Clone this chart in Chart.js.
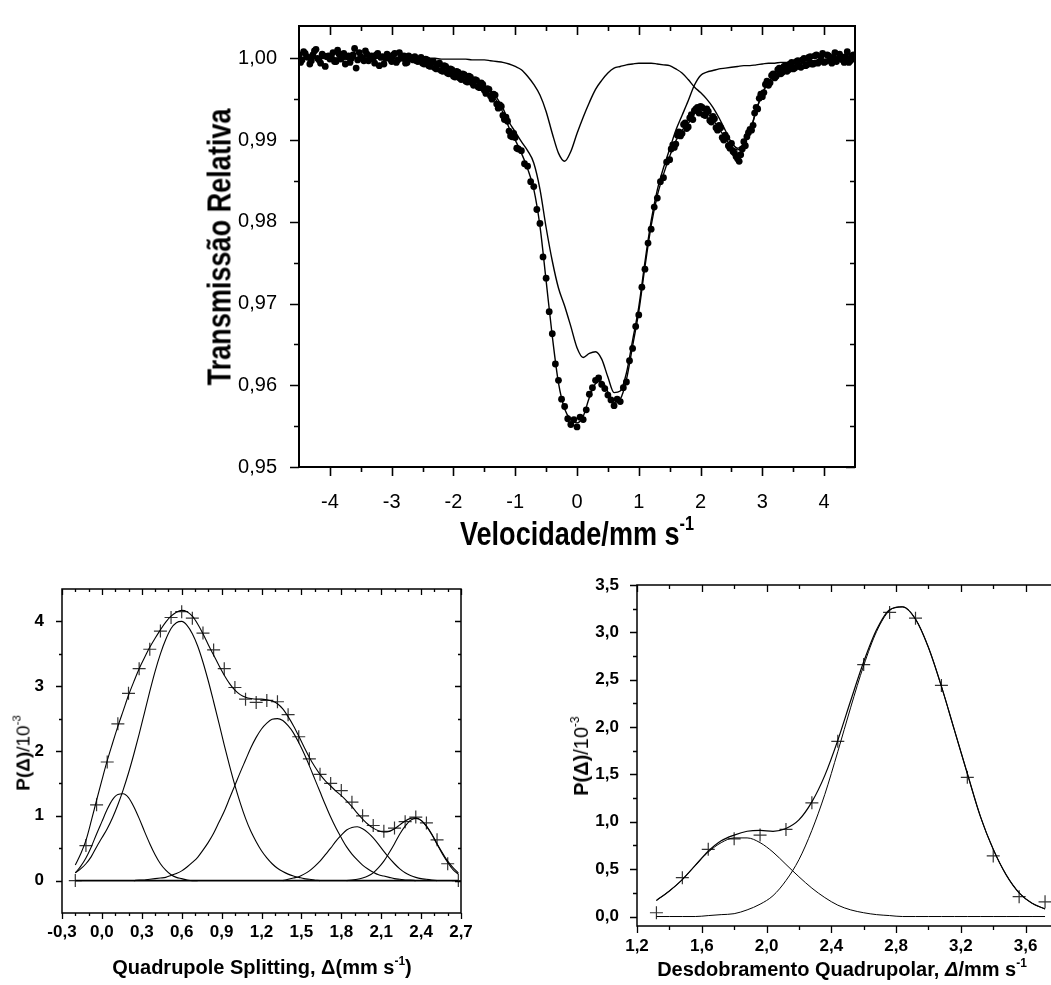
<!DOCTYPE html>
<html>
<head>
<meta charset="utf-8">
<script src="https://cdn.jsdelivr.net/npm/chart.js@4.4.1/dist/chart.umd.min.js"></script>
<style>
html, body { margin: 0; padding: 0; background: #fff; width: 1051px; height: 985px; overflow: hidden; }
.box { position: absolute; }
.ttl { position: absolute; white-space: nowrap; font-family: "Liberation Sans", Arial, sans-serif; font-weight: bold; color: #000; line-height: 1; }
.sup { font-size: 0.6em; position: relative; top: -0.78em; }
.thin { font-weight: normal; }
</style>
</head>
<body>
<div class="box" style="left:0;top:0;width:1051px;height:560px"><canvas id="spectrum"></canvas></div>
<div class="box" style="left:0;top:560px;width:520px;height:425px"><canvas id="distA"></canvas></div>
<div class="box" style="left:520px;top:560px;width:560px;height:425px"><canvas id="distB"></canvas></div>

<div class="ttl" style="left:219px;top:247px;font-size:33px;transform:translate(-50%,-50%) rotate(-90deg) scaleX(0.82)">Transmissão Relativa</div>
<div class="ttl" style="left:577px;top:533px;font-size:33px;transform:translate(-50%,-50%) scaleX(0.82)">Velocidade/mm s<span class="sup">-1</span></div>

<div class="ttl" style="left:23px;top:753px;font-size:19px;transform:translate(-50%,-50%) rotate(-90deg)">P(Δ)<span class="thin">/10<span class="sup">-3</span></span></div>
<div class="ttl" style="left:262px;top:967px;font-size:20px;transform:translate(-50%,-50%)">Quadrupole Splitting, Δ(mm s<span class="sup">-1</span>)</div>

<div class="ttl" style="left:581px;top:756px;font-size:20px;transform:translate(-50%,-50%) rotate(-90deg)">P(Δ)<span class="thin">/10<span class="sup">-3</span></span></div>
<div class="ttl" style="left:842px;top:969px;font-size:20px;transform:translate(-50%,-50%)">Desdobramento Quadrupolar, <i>Δ</i>/mm s<span class="sup">-1</span></div>

<script>
// ---- top panel: Mössbauer spectrum ----
const VEL_START = -4.5, VEL_STEP = 0.05;
const TRANS_DATA = [
  1.0004, 0.9998, 1.0006, 1.0001, 0.9997, 1.0009, 1.0000, 0.9994, 1.0003, 1.0002,
  0.9999, 1.0007, 0.9996, 1.0005, 1.0001, 0.9993, 1.0003, 1.0000, 1.0012, 0.9998,
  1.0002, 0.9997, 1.0005, 1.0001, 0.9999, 1.0004, 0.9991, 1.0002, 1.0000, 1.0003,
  0.9996, 1.0006, 0.9998, 1.0001, 1.0003, 0.9995, 1.0001, 0.9998, 0.9997, 0.9999,
  0.9994, 0.9999, 0.9991, 0.9996, 0.9988, 0.9993, 0.9985, 0.9991, 0.9982, 0.9987,
  0.9978, 0.9984, 0.9976, 0.9981, 0.9972, 0.9978, 0.9970, 0.9974, 0.9965, 0.9970,
  0.9961, 0.9963, 0.9954, 0.9956, 0.9944, 0.9943, 0.9930, 0.9928, 0.9911, 0.9904,
  0.9903, 0.9889, 0.9887, 0.9871, 0.9868, 0.9849, 0.9843, 0.9815, 0.9798, 0.9757,
  0.9731, 0.9690, 0.9663, 0.9626, 0.9606, 0.9583, 0.9574, 0.9559, 0.9552, 0.9558,
  0.9549, 0.9561, 0.9558, 0.9570, 0.9589, 0.9597, 0.9606, 0.9609, 0.9601, 0.9596,
  0.9588, 0.9582, 0.9575, 0.9583, 0.9580, 0.9597, 0.9604, 0.9630, 0.9645, 0.9672,
  0.9686, 0.9720, 0.9742, 0.9774, 0.9791, 0.9818, 0.9829, 0.9849, 0.9854, 0.9873,
  0.9876, 0.9894, 0.9895, 0.9910, 0.9908, 0.9921, 0.9916, 0.9931, 0.9936, 0.9940,
  0.9941, 0.9931, 0.9938, 0.9924, 0.9929, 0.9915, 0.9918, 0.9903, 0.9906, 0.9893,
  0.9896, 0.9884, 0.9877, 0.9882, 0.9898, 0.9904, 0.9913, 0.9918, 0.9940, 0.9951,
  0.9953, 0.9968, 0.9967, 0.9979, 0.9976, 0.9986, 0.9981, 0.9990, 0.9984, 0.9993,
  0.9987, 0.9996, 0.9990, 0.9998, 0.9991, 1.0001, 0.9993, 1.0003, 0.9994, 1.0002,
  0.9995, 1.0004, 0.9997, 1.0001, 0.9996, 1.0005, 0.9998, 1.0002, 0.9995, 1.0003,
  0.9999
];
// second pass of channels in the wings (half a step offset)
const WING_L_START = -4.475;
const TRANS_WING_L = [
  0.9995, 1.0008, 1.0002, 0.9993, 1.0004, 1.0011, 0.9998, 1.0005, 0.9990, 1.0003,
  1.0001, 0.9996, 1.0010, 0.9999, 1.0006, 1.0002, 0.9995, 1.0004, 0.9988, 1.0007,
  1.0000, 1.0009, 0.9997, 1.0003, 0.9994, 1.0006, 1.0001, 0.9993, 1.0005, 0.9999,
  1.0004, 0.9995, 1.0007, 1.0000, 0.9994, 1.0003, 0.9999, 1.0002,
  0.9996, 1.0001, 0.9993, 0.9998, 0.9990, 0.9996, 0.9987, 0.9994, 0.9984, 0.9990,
  0.9981, 0.9986, 0.9977, 0.9983, 0.9974, 0.9980, 0.9971, 0.9977, 0.9967, 0.9973,
  0.9964, 0.9968, 0.9957, 0.9962, 0.9950, 0.9955, 0.9939, 0.9941, 0.9925, 0.9923,
  0.9905, 0.9908, 0.9890
];
const WING_R_START = 1.525;
const TRANS_WING_R = [
  0.9889, 0.9891, 0.9906, 0.9905, 0.9919, 0.9914, 0.9927, 0.9925, 0.9938, 0.9933,
  0.9940, 0.9930, 0.9935, 0.9922, 0.9926, 0.9912, 0.9915, 0.9900, 0.9903, 0.9890,
  0.9886, 0.9880, 0.9874, 0.9889, 0.9893, 0.9909, 0.9912, 0.9933, 0.9938, 0.9956,
  0.9958, 0.9972, 0.9970, 0.9981, 0.9978, 0.9988, 0.9983, 0.9991, 0.9986, 0.9995,
  0.9988, 0.9997, 0.9989, 1.0000, 0.9992, 1.0002, 0.9993, 1.0004, 0.9996, 1.0006,
  0.9996, 1.0003, 0.9994, 1.0007, 0.9999, 1.0002, 0.9995, 1.0008, 0.9997, 1.0004
];
const CURVE_START = -4.5, CURVE_STEP = 0.1;
const FIT_TOTAL = [
  1.0000, 1.0000, 1.0000, 1.0000, 1.0000, 1.0000, 1.0000, 1.0000, 1.0000, 1.0000,
  1.0000, 1.0000, 1.0000, 1.0000, 1.0000, 1.0000, 0.9999, 0.9999, 0.9998, 0.9998,
  0.9997, 0.9995, 0.9992, 0.9989, 0.9986, 0.9983, 0.9980, 0.9977, 0.9973, 0.9969,
  0.9965, 0.9958, 0.9948, 0.9934, 0.9915, 0.9900, 0.9884, 0.9865, 0.9840, 0.9795,
  0.9728, 0.9660, 0.9603, 0.9571, 0.9558, 0.9554, 0.9562, 0.9585, 0.9602, 0.9605,
  0.9592, 0.9579, 0.9583, 0.9607, 0.9648, 0.9690, 0.9745, 0.9795, 0.9832, 0.9858,
  0.9880, 0.9899, 0.9912, 0.9920, 0.9932, 0.9937, 0.9933, 0.9925, 0.9914, 0.9902,
  0.9892, 0.9888, 0.9894, 0.9910, 0.9936, 0.9957, 0.9971, 0.9979, 0.9985, 0.9988,
  0.9991, 0.9993, 0.9995, 0.9996, 0.9997, 0.9998, 0.9999, 0.9999, 1.0000, 1.0000,
  1.0000
];
const FIT_SITE_A = [
  1.0000, 1.0000, 1.0000, 1.0000, 1.0000, 1.0000, 1.0000, 1.0000, 1.0000, 1.0000,
  1.0000, 1.0000, 1.0000, 1.0000, 1.0000, 1.0000, 1.0000, 1.0000, 1.0000, 1.0000,
  1.0000, 1.0000, 1.0000, 0.9999, 0.9999, 0.9999, 0.9999, 0.9999, 0.9998, 0.9998,
  0.9998, 0.9997, 0.9996, 0.9995, 0.9993, 0.9990, 0.9986, 0.9978, 0.9968, 0.9955,
  0.9935, 0.9908, 0.9884, 0.9874, 0.9886, 0.9908, 0.9928, 0.9946, 0.9962, 0.9973,
  0.9982, 0.9988, 0.9990, 0.9992, 0.9993, 0.9994, 0.9994, 0.9994, 0.9993, 0.9992,
  0.9991, 0.9987, 0.9982, 0.9974, 0.9965, 0.9958, 0.9950, 0.9940, 0.9927, 0.9912,
  0.9897, 0.9890, 0.9896, 0.9910, 0.9936, 0.9957, 0.9971, 0.9979, 0.9985, 0.9988,
  0.9991, 0.9993, 0.9995, 0.9996, 0.9997, 0.9998, 0.9999, 0.9999, 1.0000, 1.0000,
  1.0000
];
const FIT_SITE_B = [
  1.0000, 1.0000, 1.0000, 1.0000, 1.0000, 1.0000, 1.0000, 1.0000, 1.0000, 1.0000,
  1.0000, 1.0000, 1.0000, 1.0000, 1.0000, 1.0000, 0.9999, 0.9999, 0.9999, 0.9998,
  0.9997, 0.9995, 0.9992, 0.9990, 0.9987, 0.9984, 0.9981, 0.9978, 0.9975, 0.9971,
  0.9967, 0.9961, 0.9952, 0.9939, 0.9922, 0.9910, 0.9898, 0.9887, 0.9872, 0.9840,
  0.9793, 0.9752, 0.9719, 0.9697, 0.9672, 0.9646, 0.9634, 0.9639, 0.9641, 0.9632,
  0.9610, 0.9591, 0.9593, 0.9615, 0.9655, 0.9696, 0.9751, 0.9801, 0.9839, 0.9866,
  0.9889, 0.9912, 0.9930, 0.9948, 0.9967, 0.9979, 0.9983, 0.9985, 0.9987, 0.9988,
  0.9989, 0.9990, 0.9991, 0.9991, 0.9992, 0.9993, 0.9994, 0.9994, 0.9995, 0.9995,
  0.9996, 0.9996, 0.9997, 0.9997, 0.9998, 0.9998, 0.9999, 0.9999, 1.0000, 1.0000,
  1.0000
];
const TOP_X_TICKS = [-4, -3, -2, -1, 0, 1, 2, 3, 4];
const TOP_X_MINOR = [-3.5, -2.5, -1.5, -0.5, 0.5, 1.5, 2.5, 3.5];
const TOP_Y_TICKS = [0.95, 0.96, 0.97, 0.98, 0.99, 1.00];
const TOP_Y_MINOR = [0.955, 0.965, 0.975, 0.985, 0.995];

// ---- bottom left: quadrupole splitting distribution ----
const QS_X = [-0.2, -0.12, -0.04, 0.04, 0.12, 0.2, 0.28, 0.36, 0.44, 0.52, 0.6, 0.68, 0.76,
  0.84, 0.92, 1.0, 1.08, 1.16, 1.24, 1.32, 1.4, 1.48, 1.56, 1.64, 1.72, 1.8, 1.88,
  1.96, 2.04, 2.12, 2.2, 2.28, 2.36, 2.44, 2.52, 2.6, 2.68];
const QS_P = [0, 0.54, 1.17, 1.83, 2.42, 2.89, 3.27, 3.57, 3.85, 4.06, 4.15, 4.05, 3.82,
  3.56, 3.27, 2.98, 2.80, 2.75, 2.78, 2.76, 2.56, 2.22, 1.88, 1.64, 1.50, 1.39, 1.21,
  1.00, 0.85, 0.76, 0.81, 0.91, 0.98, 0.89, 0.63, 0.26, 0];
const QS_STEP = 0.04;
const QS_ENV_START = -0.2;
const QS_ENV = [
  0.24, 0.41, 0.62, 0.92, 1.24, 1.55, 1.85, 2.12, 2.38, 2.62,
  2.86, 3.07, 3.27, 3.44, 3.60, 3.74, 3.87, 3.99, 4.08, 4.14,
  4.17, 4.15, 4.08, 3.96, 3.81, 3.64, 3.48, 3.32, 3.17, 3.04,
  2.94, 2.87, 2.83, 2.81, 2.80, 2.80, 2.79, 2.77, 2.73, 2.65,
  2.53, 2.39, 2.23, 2.06, 1.90, 1.76, 1.64, 1.54, 1.46, 1.38,
  1.31, 1.23, 1.14, 1.04, 0.95, 0.87, 0.81, 0.77, 0.75, 0.76,
  0.80, 0.86, 0.92, 0.96, 0.97, 0.93, 0.84, 0.71, 0.56, 0.41,
  0.28, 0.17, 0.10
];
const QS_G1_START = -0.2;
const QS_G1 = [0.12, 0.22, 0.35, 0.52, 0.72, 0.91, 1.10, 1.25, 1.33, 1.34,
  1.28, 1.14, 0.96, 0.76, 0.57, 0.40, 0.26, 0.16, 0.09, 0.05, 0.03, 0.01, 0, 0];
const QS_G2_START = -0.2;
const QS_G2 = [0.12, 0.18, 0.26, 0.37, 0.52, 0.66, 0.80, 0.97, 1.17, 1.40,
  1.66, 1.95, 2.26, 2.59, 2.92, 3.23, 3.50, 3.72, 3.89, 3.98,
  4.00, 3.94, 3.81, 3.62, 3.37, 3.08, 2.76, 2.43, 2.09, 1.77,
  1.47, 1.20, 0.96, 0.76, 0.60, 0.46, 0.35, 0.26, 0.19, 0.14,
  0.10, 0.07, 0.05, 0.03, 0.02, 0.01, 0];
const QS_G3_START = 0.24;
const QS_G3 = [0, 0.01, 0.01, 0.02,
  0.03, 0.04, 0.05, 0.08, 0.11, 0.15, 0.21, 0.28, 0.36, 0.47,
  0.59, 0.73, 0.90, 1.07, 1.27, 1.47, 1.67, 1.86, 2.05, 2.21,
  2.34, 2.43, 2.49, 2.50, 2.47, 2.39, 2.28, 2.13, 1.96, 1.77,
  1.57, 1.37, 1.17, 0.98, 0.81, 0.66, 0.52, 0.41, 0.32, 0.24,
  0.18, 0.13, 0.09, 0.07, 0.05, 0.03, 0.02, 0.01, 0.01, 0];
const QS_G4_START = 1.36;
const QS_G4 = [0, 0.02, 0.04, 0.06, 0.10, 0.15, 0.22, 0.30, 0.40, 0.50,
  0.61, 0.70, 0.78, 0.82, 0.83, 0.80, 0.74, 0.66, 0.56, 0.45,
  0.35, 0.26, 0.18, 0.12, 0.08, 0.05, 0.03, 0.02, 0.01, 0];
const QS_G5_START = 1.84;
const QS_G5 = [0, 0.01, 0.02, 0.04, 0.07, 0.12, 0.20, 0.30, 0.43, 0.57,
  0.72, 0.84, 0.93, 0.96, 0.93, 0.84, 0.72, 0.57, 0.43, 0.30,
  0.20, 0.12];
const QS_BASE_X = [-0.2, 2.68];
const QS_BASE_Y = [0, 0];
const QS_X_TICKS = [-0.3, 0, 0.3, 0.6, 0.9, 1.2, 1.5, 1.8, 2.1, 2.4, 2.7];
const QS_X_MINOR = [-0.2, -0.1, 0.1, 0.2, 0.4, 0.5, 0.7, 0.8, 1.0, 1.1, 1.3, 1.4,
  1.6, 1.7, 1.9, 2.0, 2.2, 2.3, 2.5, 2.6];
const QS_Y_TICKS = [0, 1, 2, 3, 4];
const QS_Y_MINOR = [0.5, 1.5, 2.5, 3.5];

// ---- bottom right: desdobramento quadrupolar ----
const DQ_X = [1.32, 1.48, 1.64, 1.80, 1.96, 2.12, 2.28, 2.44, 2.60, 2.76, 2.92, 3.08,
  3.24, 3.40, 3.56, 3.72];
const DQ_P = [0.04, 0.41, 0.71, 0.82, 0.86, 0.92, 1.20, 1.85, 2.66, 3.21, 3.15, 2.44,
  1.47, 0.64, 0.21, 0.155];
const DQ_START = 1.32, DQ_STEP = 0.08;
const DQ_ENV = [0.17, 0.27, 0.39, 0.54, 0.69, 0.80, 0.86, 0.90, 0.91, 0.90,
  0.93, 1.02, 1.21, 1.49, 1.86, 2.28, 2.69, 3.03, 3.24, 3.27,
  3.14, 2.84, 2.43, 1.97, 1.51, 1.06, 0.71, 0.44, 0.25, 0.14, 0.08];
const DQ_GA = [0.17, 0.27, 0.39, 0.54, 0.68, 0.78, 0.83, 0.83, 0.78, 0.68,
  0.55, 0.42, 0.30, 0.20, 0.12, 0.07, 0.04, 0.02, 0.01, 0,
  0, 0, 0, 0, 0, 0, 0, 0, 0, 0, 0];
const DQ_GB = [0, 0, 0, 0, 0.01, 0.02, 0.03, 0.07, 0.13, 0.22,
  0.38, 0.60, 0.91, 1.29, 1.74, 2.21, 2.65, 3.01, 3.23, 3.27,
  3.14, 2.84, 2.43, 1.97, 1.51, 1.06, 0.71, 0.44, 0.25, 0.14, 0.08];
const DQ_X_TICKS = [1.2, 1.6, 2.0, 2.4, 2.8, 3.2, 3.6];
const DQ_X_MINOR = [1.4, 1.8, 2.2, 2.6, 3.0, 3.4];
const DQ_Y_TICKS = [0, 0.5, 1.0, 1.5, 2.0, 2.5, 3.0, 3.5];
const DQ_Y_MINOR = [0.25, 0.75, 1.25, 1.75, 2.25, 2.75, 3.25];

Chart.defaults.font.family = '"Liberation Sans", Arial, sans-serif';
Chart.defaults.color = '#000';

const onGrid = (start, step, ys) => ys.map((y, i) => ({ x: +(start + i * step).toFixed(3), y }));
const zip = (xs, ys) => xs.map((x, i) => ({ x, y: ys[i] }));
const comma = d => v => v.toFixed(d).replace('.', ',');

function curve(data, width) {
  return { data, showLine: true, borderColor: '#000', borderWidth: width, pointRadius: 0,
    fill: false, cubicInterpolationMode: 'monotone' };
}

function dots(data) {
  return { data, pointRadius: 3.4, pointBackgroundColor: '#000', pointBorderWidth: 0, showLine: false };
}

// frame plus major/minor ticks: outward on bottom/left, inward on top/right
const frameTicks = {
  id: 'frameTicks',
  afterDraw(chart, args, o) {
    const { ctx, chartArea: a, scales: { x, y } } = chart;
    ctx.save();
    ctx.strokeStyle = '#000';
    ctx.lineWidth = o.frame;
    ctx.strokeRect(a.left, a.top, a.right - a.left, a.bottom - a.top);
    ctx.lineWidth = o.tick;
    ctx.beginPath();
    [[o.xMajor, o.big], [o.xMinor, o.small]].forEach(([vals, len]) => vals.forEach(v => {
      const px = Math.round(x.getPixelForValue(v)) + 0.5;
      ctx.moveTo(px, a.bottom); ctx.lineTo(px, a.bottom + len);
      ctx.moveTo(px, a.top); ctx.lineTo(px, a.top + len);
    }));
    [[o.yMajor, o.big], [o.yMinor, o.small]].forEach(([vals, len]) => vals.forEach(v => {
      const py = Math.round(y.getPixelForValue(v)) + 0.5;
      ctx.moveTo(a.left, py); ctx.lineTo(a.left - len, py);
      ctx.moveTo(a.right, py); ctx.lineTo(a.right - len, py);
    }));
    ctx.stroke();
    ctx.restore();
  }
};

function axis(min, max, ticks, fmt, size, bold, pad, fit) {
  return {
    type: 'linear', min, max,
    grid: { display: false }, border: { display: false },
    afterBuildTicks: s => { s.ticks = ticks.map(v => ({ value: v })); },
    afterFit: fit,
    ticks: { callback: fmt, autoSkip: false, maxRotation: 0, padding: pad,
      font: { size, weight: bold ? 'bold' : 'normal' } }
  };
}

function makeChart(id, datasets, scales, padding, ticksOpt) {
  return new Chart(document.getElementById(id), {
    type: 'scatter',
    data: { datasets },
    options: {
      responsive: true, maintainAspectRatio: false, animation: false, events: [],
      layout: { padding },
      plugins: { legend: { display: false }, tooltip: { enabled: false }, frameTicks: ticksOpt },
      scales
    },
    plugins: [frameTicks]
  });
}

makeChart('spectrum', [
  curve(onGrid(CURVE_START, CURVE_STEP, FIT_TOTAL), 1.4),
  curve(onGrid(CURVE_START, CURVE_STEP, FIT_SITE_A), 1.4),
  curve(onGrid(CURVE_START, CURVE_STEP, FIT_SITE_B), 1.4),
  dots(onGrid(VEL_START, VEL_STEP, TRANS_DATA)),
  dots(onGrid(WING_L_START, VEL_STEP, TRANS_WING_L)),
  dots(onGrid(WING_R_START, VEL_STEP, TRANS_WING_R))
], {
  x: axis(-4.5, 4.5, TOP_X_TICKS, v => String(v), 20, false, 15, s => { s.height = 93; }),
  y: axis(0.95, 1.00395, TOP_Y_TICKS, comma(2), 20, false, 14, s => { s.width = 299; })
}, { top: 16, right: 196, left: 0, bottom: 0 }, {
  frame: 2, tick: 1.6, big: 9, small: 5,
  xMajor: TOP_X_TICKS, xMinor: TOP_X_MINOR, yMajor: TOP_Y_TICKS, yMinor: TOP_Y_MINOR
});

const cross = (data) => ({ data, pointStyle: 'cross', pointRadius: 6.5, pointBorderColor: '#333',
  pointBorderWidth: 1.2, showLine: false });

makeChart('distA', [
  curve(onGrid(QS_ENV_START, QS_STEP, QS_ENV), 1.1),
  curve(onGrid(QS_G1_START, QS_STEP, QS_G1), 1.1),
  curve(onGrid(QS_G2_START, QS_STEP, QS_G2), 1.1),
  curve(onGrid(QS_G3_START, QS_STEP, QS_G3), 1.1),
  curve(onGrid(QS_G4_START, QS_STEP, QS_G4), 1.1),
  curve(onGrid(QS_G5_START, QS_STEP, QS_G5), 1.1),
  curve(zip(QS_BASE_X, QS_BASE_Y), 1.6),
  cross(zip(QS_X, QS_P))
], {
  x: axis(-0.3, 2.7, QS_X_TICKS, comma(1), 17, true, 1, s => { s.height = 72; }),
  y: axis(-0.5, 4.5, QS_Y_TICKS, v => String(v), 17, true, 10, s => { s.width = 62; })
}, { top: 29, right: 59, left: 0, bottom: 0 }, {
  frame: 1.5, tick: 1.3, big: 6, small: 3,
  xMajor: QS_X_TICKS, xMinor: QS_X_MINOR, yMajor: QS_Y_TICKS, yMinor: QS_Y_MINOR
});

makeChart('distB', [
  curve(onGrid(DQ_START, DQ_STEP, DQ_ENV), 1.2),
  curve(onGrid(DQ_START, DQ_STEP, DQ_GA), 1.0),
  curve(onGrid(DQ_START, DQ_STEP, DQ_GB), 1.0),
  cross(zip(DQ_X, DQ_P))
], {
  x: axis(1.2, 3.8, DQ_X_TICKS, comma(1), 17, true, 2, s => { s.height = 59; }),
  y: axis(-0.1, 3.5, DQ_Y_TICKS, comma(1), 17, true, 10, s => { s.width = 117; })
}, { top: 25, right: 22, left: 0, bottom: 0 }, {
  frame: 1.5, tick: 1.3, big: 7, small: 4,
  xMajor: DQ_X_TICKS, xMinor: DQ_X_MINOR, yMajor: DQ_Y_TICKS, yMinor: DQ_Y_MINOR
});
</script>
</body>
</html>
